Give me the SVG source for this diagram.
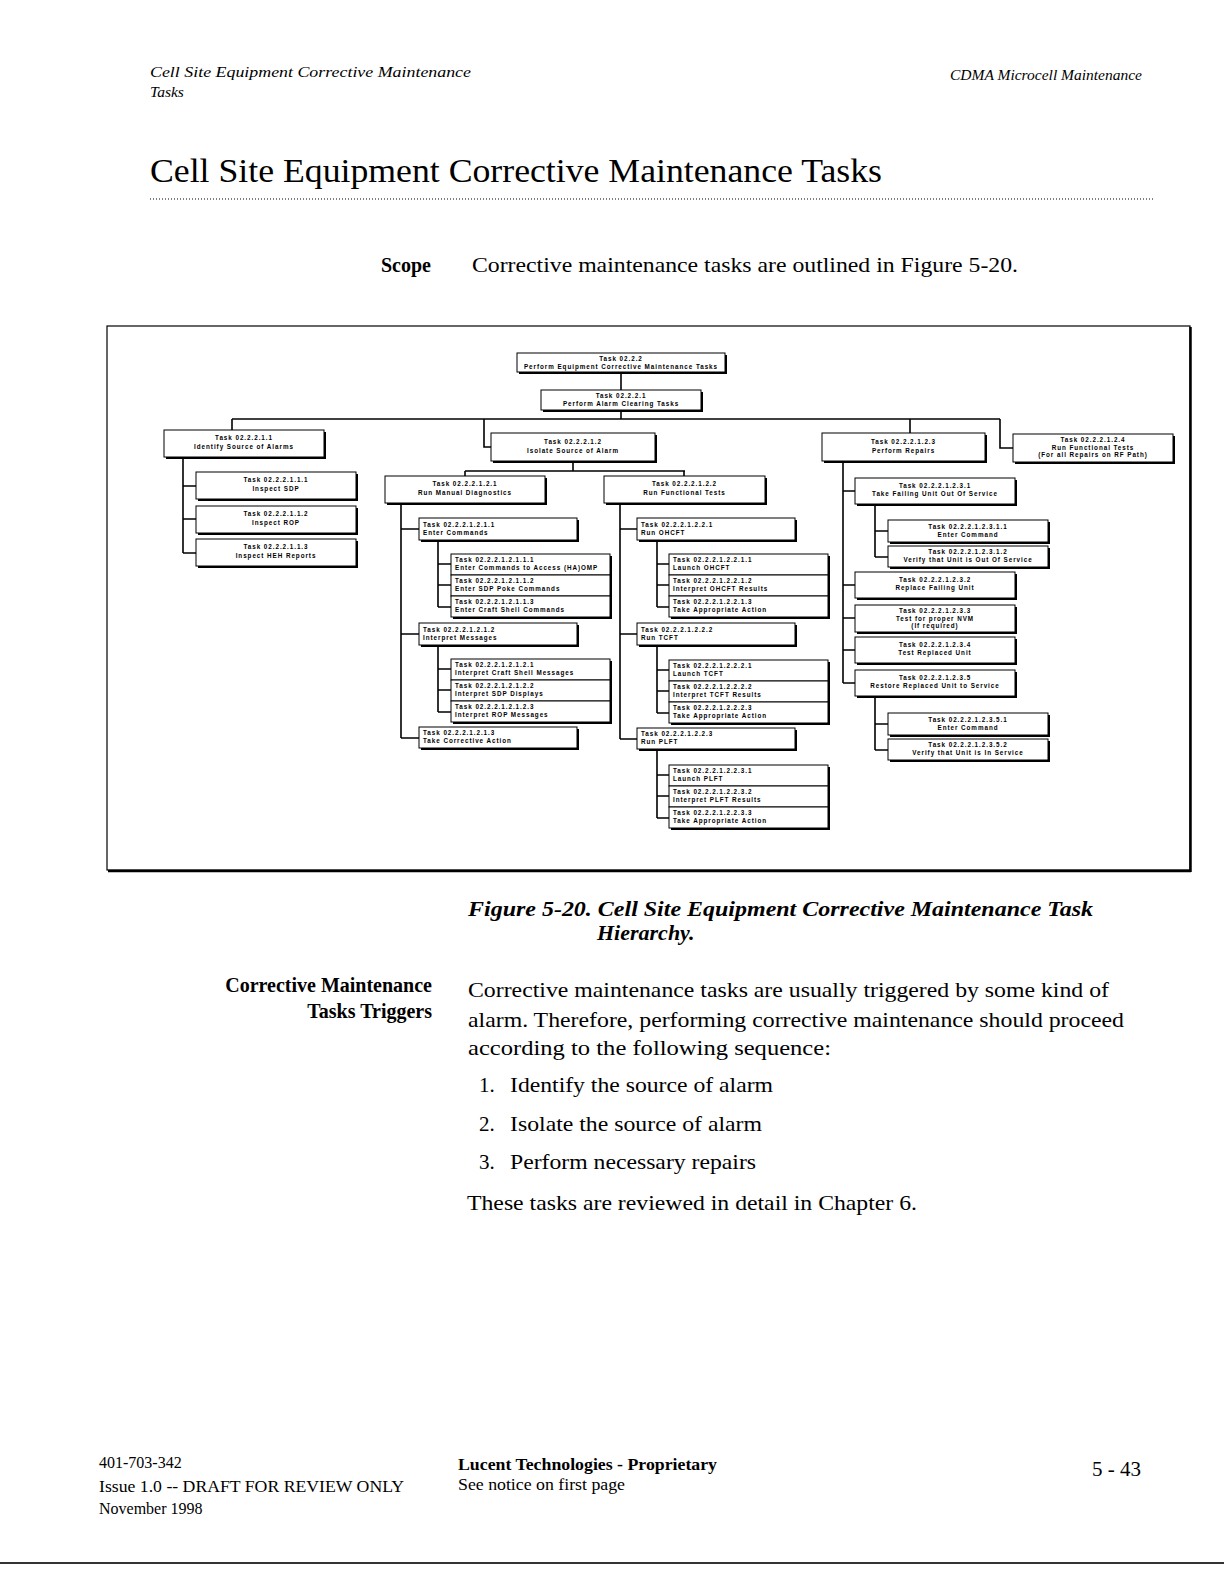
<svg xmlns="http://www.w3.org/2000/svg" width="1224" height="1584" viewBox="0 0 1224 1584">
<style>
.bx{fill:#fff;stroke:#000;stroke-width:1}
.sh{fill:#000}
.t{font-family:"Liberation Sans",Arial,sans-serif;font-size:6.3px;font-weight:bold;letter-spacing:0.95px;fill:#000}
.c{text-anchor:middle}
.ln{stroke:#000;stroke-width:1.6;fill:none}
.serif{font-family:"Liberation Serif","Times New Roman",serif;fill:#000}
.it{font-style:italic}
.b{font-weight:bold}
.r{text-anchor:end}
</style>
<rect width="1224" height="1584" fill="#fff"/>

<!-- page header -->
<text class="serif it" x="150" y="77" font-size="15.5" textLength="321" lengthAdjust="spacingAndGlyphs">Cell Site Equipment Corrective Maintenance</text>
<text class="serif it" x="150" y="97" font-size="15.5">Tasks</text>
<text class="serif it r" x="1142" y="80" font-size="15.5">CDMA Microcell Maintenance</text>
<text class="serif" x="150" y="182" font-size="33" textLength="732" lengthAdjust="spacingAndGlyphs">Cell Site Equipment Corrective Maintenance Tasks</text>
<line x1="150" y1="199" x2="1153" y2="199" stroke="#000" stroke-width="1" stroke-dasharray="1,2"/>
<text class="serif b" x="381" y="272" font-size="20">Scope</text>
<text class="serif" x="472" y="272" font-size="21" textLength="546" lengthAdjust="spacingAndGlyphs">Corrective maintenance tasks are outlined in Figure 5-20.</text>

<!-- figure frame -->
<rect x="107" y="326" width="1083" height="544" fill="none" stroke="#000" stroke-width="1.2"/>
<line x1="1190.5" y1="327" x2="1190.5" y2="872" stroke="#000" stroke-width="2.5"/>
<line x1="108" y1="871" x2="1191" y2="871" stroke="#000" stroke-width="2.5"/>

<!-- connectors -->
<g id="connectors" class="ln">
<path d="M621 372V390"/>
<path d="M621 410V419"/>
<path d="M232 419H1000"/>
<path d="M232 419V430"/>
<path d="M484 419V447H491"/>
<path d="M910 419V433"/>
<path d="M1000 419V448H1013"/>
<path d="M183 457V553M183 486H196M183 519H196M183 553H196"/>
<path d="M573 461V471M465 471H685M465 471V476M684 471V476"/>
<path d="M401 503V738M401 529H419M401 634H419M401 738H419"/>
<path d="M438 540V607M438 564H451M438 585H451M438 607H451"/>
<path d="M438 645V712M438 669H451M438 690H451M438 712H451"/>
<path d="M620 503V739M620 529H637M620 634H637M620 739H637"/>
<path d="M657 540V607M657 564H669M657 585H669M657 607H669"/>
<path d="M657 645V713M657 670H669M657 691H669M657 713H669"/>
<path d="M657 749V818M657 775H669M657 796H669M657 818H669"/>
<path d="M843 461V683M843 491H855M843 585H855M843 618H855M843 650H855M843 683H855"/>
<path d="M875 504V557M875 531H888M875 557H888"/>
<path d="M875 696V750M875 724H888M875 750H888"/>
</g>

<!-- nodes -->
<g id="n02.2.2"><rect class="sh" x="519" y="355" width="208" height="19"/><rect class="bx" x="517" y="353" width="208" height="19"/>
<text class="t c" x="621" y="361">Task 02.2.2</text><text class="t c" x="621" y="369">Perform Equipment Corrective Maintenance Tasks</text></g>

<g id="n02.2.2.1"><rect class="sh" x="543" y="392" width="160" height="20"/><rect class="bx" x="541" y="390" width="160" height="20"/>
<text class="t c" x="621" y="398">Task 02.2.2.1</text><text class="t c" x="621" y="406">Perform Alarm Clearing Tasks</text></g>

<g id="n02.2.2.1.1"><rect class="sh" x="166" y="432" width="160" height="27"/><rect class="bx" x="164" y="430" width="160" height="27"/>
<text class="t c" x="244" y="440">Task 02.2.2.1.1</text><text class="t c" x="244" y="449">Identify Source of Alarms</text></g>

<g id="n02.2.2.1.1.1"><rect class="sh" x="198" y="474" width="160" height="27"/><rect class="bx" x="196" y="472" width="160" height="27"/>
<text class="t c" x="276" y="482">Task 02.2.2.1.1.1</text><text class="t c" x="276" y="491">Inspect SDP</text></g>
<g id="n02.2.2.1.1.2"><rect class="sh" x="198" y="508" width="160" height="27"/><rect class="bx" x="196" y="506" width="160" height="27"/>
<text class="t c" x="276" y="516">Task 02.2.2.1.1.2</text><text class="t c" x="276" y="525">Inspect ROP</text></g>
<g id="n02.2.2.1.1.3"><rect class="sh" x="198" y="541" width="160" height="27"/><rect class="bx" x="196" y="539" width="160" height="27"/>
<text class="t c" x="276" y="549">Task 02.2.2.1.1.3</text><text class="t c" x="276" y="558">Inspect HEH Reports</text></g>

<g id="n02.2.2.1.2"><rect class="sh" x="493" y="435" width="164" height="28"/><rect class="bx" x="491" y="433" width="164" height="28"/>
<text class="t c" x="573" y="444">Task 02.2.2.1.2</text><text class="t c" x="573" y="453">Isolate Source of Alarm</text></g>

<g id="n02.2.2.1.2.1"><rect class="sh" x="387" y="478" width="160" height="27"/><rect class="bx" x="385" y="476" width="160" height="27"/>
<text class="t c" x="465" y="486">Task 02.2.2.1.2.1</text><text class="t c" x="465" y="495">Run Manual Diagnostics</text></g>

<g id="n02.2.2.1.2.1.1"><rect class="sh" x="421" y="520" width="158" height="22"/><rect class="bx" x="419" y="518" width="158" height="22"/>
<text class="t" x="423" y="527">Task 02.2.2.1.2.1.1</text><text class="t" x="423" y="535">Enter Commands</text></g>
<g id="n02.2.2.1.2.1.1.1"><rect class="sh" x="453" y="556" width="159" height="21"/><rect class="bx" x="451" y="554" width="159" height="21"/>
<text class="t" x="455" y="562">Task 02.2.2.1.2.1.1.1</text><text class="t" x="455" y="570">Enter Commands to Access (HA)OMP</text></g>
<g id="n02.2.2.1.2.1.1.2"><rect class="sh" x="453" y="577" width="159" height="21"/><rect class="bx" x="451" y="575" width="159" height="21"/>
<text class="t" x="455" y="583">Task 02.2.2.1.2.1.1.2</text><text class="t" x="455" y="591">Enter SDP Poke Commands</text></g>
<g id="n02.2.2.1.2.1.1.3"><rect class="sh" x="453" y="598" width="159" height="21"/><rect class="bx" x="451" y="596" width="159" height="21"/>
<text class="t" x="455" y="604">Task 02.2.2.1.2.1.1.3</text><text class="t" x="455" y="612">Enter Craft Shell Commands</text></g>

<g id="n02.2.2.1.2.1.2"><rect class="sh" x="421" y="625" width="158" height="22"/><rect class="bx" x="419" y="623" width="158" height="22"/>
<text class="t" x="423" y="632">Task 02.2.2.1.2.1.2</text><text class="t" x="423" y="640">Interpret Messages</text></g>
<g id="n02.2.2.1.2.1.2.1"><rect class="sh" x="453" y="661" width="159" height="21"/><rect class="bx" x="451" y="659" width="159" height="21"/>
<text class="t" x="455" y="667">Task 02.2.2.1.2.1.2.1</text><text class="t" x="455" y="675">Interpret Craft Shell Messages</text></g>
<g id="n02.2.2.1.2.1.2.2"><rect class="sh" x="453" y="682" width="159" height="21"/><rect class="bx" x="451" y="680" width="159" height="21"/>
<text class="t" x="455" y="688">Task 02.2.2.1.2.1.2.2</text><text class="t" x="455" y="696">Interpret SDP Displays</text></g>
<g id="n02.2.2.1.2.1.2.3"><rect class="sh" x="453" y="703" width="159" height="21"/><rect class="bx" x="451" y="701" width="159" height="21"/>
<text class="t" x="455" y="709">Task 02.2.2.1.2.1.2.3</text><text class="t" x="455" y="717">Interpret ROP Messages</text></g>

<g id="n02.2.2.1.2.1.3"><rect class="sh" x="421" y="729" width="158" height="21"/><rect class="bx" x="419" y="727" width="158" height="21"/>
<text class="t" x="423" y="735">Task 02.2.2.1.2.1.3</text><text class="t" x="423" y="743">Take Corrective Action</text></g>

<g id="n02.2.2.1.2.2"><rect class="sh" x="606" y="478" width="161" height="27"/><rect class="bx" x="604" y="476" width="161" height="27"/>
<text class="t c" x="684.5" y="486">Task 02.2.2.1.2.2</text><text class="t c" x="684.5" y="495">Run Functional Tests</text></g>

<g id="n02.2.2.1.2.2.1"><rect class="sh" x="639" y="520" width="158" height="22"/><rect class="bx" x="637" y="518" width="158" height="22"/>
<text class="t" x="641" y="527">Task 02.2.2.1.2.2.1</text><text class="t" x="641" y="535">Run OHCFT</text></g>
<g id="n02.2.2.1.2.2.1.1"><rect class="sh" x="671" y="556" width="159" height="21"/><rect class="bx" x="669" y="554" width="159" height="21"/>
<text class="t" x="673" y="562">Task 02.2.2.1.2.2.1.1</text><text class="t" x="673" y="570">Launch OHCFT</text></g>
<g id="n02.2.2.1.2.2.1.2"><rect class="sh" x="671" y="577" width="159" height="21"/><rect class="bx" x="669" y="575" width="159" height="21"/>
<text class="t" x="673" y="583">Task 02.2.2.1.2.2.1.2</text><text class="t" x="673" y="591">Interpret OHCFT Results</text></g>
<g id="n02.2.2.1.2.2.1.3"><rect class="sh" x="671" y="598" width="159" height="21"/><rect class="bx" x="669" y="596" width="159" height="21"/>
<text class="t" x="673" y="604">Task 02.2.2.1.2.2.1.3</text><text class="t" x="673" y="612">Take Appropriate Action</text></g>

<g id="n02.2.2.1.2.2.2"><rect class="sh" x="639" y="625" width="158" height="22"/><rect class="bx" x="637" y="623" width="158" height="22"/>
<text class="t" x="641" y="632">Task 02.2.2.1.2.2.2</text><text class="t" x="641" y="640">Run TCFT</text></g>
<g id="n02.2.2.1.2.2.2.1"><rect class="sh" x="671" y="662" width="159" height="21"/><rect class="bx" x="669" y="660" width="159" height="21"/>
<text class="t" x="673" y="668">Task 02.2.2.1.2.2.2.1</text><text class="t" x="673" y="676">Launch TCFT</text></g>
<g id="n02.2.2.1.2.2.2.2"><rect class="sh" x="671" y="683" width="159" height="21"/><rect class="bx" x="669" y="681" width="159" height="21"/>
<text class="t" x="673" y="689">Task 02.2.2.1.2.2.2.2</text><text class="t" x="673" y="697">Interpret TCFT Results</text></g>
<g id="n02.2.2.1.2.2.2.3"><rect class="sh" x="671" y="704" width="159" height="21"/><rect class="bx" x="669" y="702" width="159" height="21"/>
<text class="t" x="673" y="710">Task 02.2.2.1.2.2.2.3</text><text class="t" x="673" y="718">Take Appropriate Action</text></g>

<g id="n02.2.2.1.2.2.3"><rect class="sh" x="639" y="730" width="158" height="21"/><rect class="bx" x="637" y="728" width="158" height="21"/>
<text class="t" x="641" y="736">Task 02.2.2.1.2.2.3</text><text class="t" x="641" y="744">Run PLFT</text></g>
<g id="n02.2.2.1.2.2.3.1"><rect class="sh" x="671" y="767" width="159" height="21"/><rect class="bx" x="669" y="765" width="159" height="21"/>
<text class="t" x="673" y="773">Task 02.2.2.1.2.2.3.1</text><text class="t" x="673" y="781">Launch PLFT</text></g>
<g id="n02.2.2.1.2.2.3.2"><rect class="sh" x="671" y="788" width="159" height="21"/><rect class="bx" x="669" y="786" width="159" height="21"/>
<text class="t" x="673" y="794">Task 02.2.2.1.2.2.3.2</text><text class="t" x="673" y="802">Interpret PLFT Results</text></g>
<g id="n02.2.2.1.2.2.3.3"><rect class="sh" x="671" y="809" width="159" height="21"/><rect class="bx" x="669" y="807" width="159" height="21"/>
<text class="t" x="673" y="815">Task 02.2.2.1.2.2.3.3</text><text class="t" x="673" y="823">Take Appropriate Action</text></g>

<g id="n02.2.2.1.2.3"><rect class="sh" x="824" y="435" width="163" height="28"/><rect class="bx" x="822" y="433" width="163" height="28"/>
<text class="t c" x="903.5" y="444">Task 02.2.2.1.2.3</text><text class="t c" x="903.5" y="453">Perform Repairs</text></g>

<g id="n02.2.2.1.2.4"><rect class="sh" x="1015" y="436" width="160" height="28"/><rect class="bx" x="1013" y="434" width="160" height="28"/>
<text class="t c" x="1093" y="442">Task 02.2.2.1.2.4</text><text class="t c" x="1093" y="449.5">Run Functional Tests</text><text class="t c" x="1093" y="457">(For all Repairs on RF Path)</text></g>

<g id="n02.2.2.1.2.3.1"><rect class="sh" x="857" y="480" width="160" height="26"/><rect class="bx" x="855" y="478" width="160" height="26"/>
<text class="t c" x="935" y="488">Task 02.2.2.1.2.3.1</text><text class="t c" x="935" y="496">Take Failing Unit Out Of Service</text></g>
<g id="n02.2.2.1.2.3.1.1"><rect class="sh" x="890" y="522" width="160" height="22"/><rect class="bx" x="888" y="520" width="160" height="22"/>
<text class="t c" x="968" y="529">Task 02.2.2.1.2.3.1.1</text><text class="t c" x="968" y="537">Enter Command</text></g>
<g id="n02.2.2.1.2.3.1.2"><rect class="sh" x="890" y="548" width="160" height="21"/><rect class="bx" x="888" y="546" width="160" height="21"/>
<text class="t c" x="968" y="554">Task 02.2.2.1.2.3.1.2</text><text class="t c" x="968" y="562">Verify that Unit is Out Of Service</text></g>
<g id="n02.2.2.1.2.3.2"><rect class="sh" x="857" y="574" width="160" height="26"/><rect class="bx" x="855" y="572" width="160" height="26"/>
<text class="t c" x="935" y="582">Task 02.2.2.1.2.3.2</text><text class="t c" x="935" y="590">Replace Failing Unit</text></g>
<g id="n02.2.2.1.2.3.3"><rect class="sh" x="857" y="607" width="160" height="27"/><rect class="bx" x="855" y="605" width="160" height="27"/>
<text class="t c" x="935" y="613">Task 02.2.2.1.2.3.3</text><text class="t c" x="935" y="620.5">Test for proper NVM</text><text class="t c" x="935" y="628">(If required)</text></g>
<g id="n02.2.2.1.2.3.4"><rect class="sh" x="857" y="639" width="160" height="26"/><rect class="bx" x="855" y="637" width="160" height="26"/>
<text class="t c" x="935" y="647">Task 02.2.2.1.2.3.4</text><text class="t c" x="935" y="655">Test Replaced Unit</text></g>
<g id="n02.2.2.1.2.3.5"><rect class="sh" x="857" y="672" width="160" height="26"/><rect class="bx" x="855" y="670" width="160" height="26"/>
<text class="t c" x="935" y="680">Task 02.2.2.1.2.3.5</text><text class="t c" x="935" y="688">Restore Replaced Unit to Service</text></g>
<g id="n02.2.2.1.2.3.5.1"><rect class="sh" x="890" y="715" width="160" height="22"/><rect class="bx" x="888" y="713" width="160" height="22"/>
<text class="t c" x="968" y="722">Task 02.2.2.1.2.3.5.1</text><text class="t c" x="968" y="730">Enter Command</text></g>
<g id="n02.2.2.1.2.3.5.2"><rect class="sh" x="890" y="741" width="160" height="21"/><rect class="bx" x="888" y="739" width="160" height="21"/>
<text class="t c" x="968" y="747">Task 02.2.2.1.2.3.5.2</text><text class="t c" x="968" y="755">Verify that Unit is In Service</text></g>

<!-- caption and body -->
<text class="serif b it" x="468" y="916" font-size="22" textLength="625" lengthAdjust="spacingAndGlyphs">Figure 5-20.  Cell Site Equipment Corrective Maintenance Task</text>
<text class="serif b it" x="597" y="940" font-size="22">Hierarchy.</text>
<text class="serif b r" x="432" y="992" font-size="20">Corrective Maintenance</text>
<text class="serif b r" x="432" y="1018" font-size="20">Tasks Triggers</text>
<text class="serif" x="468" y="997" font-size="21" textLength="641" lengthAdjust="spacingAndGlyphs">Corrective maintenance tasks are usually triggered by some kind of</text>
<text class="serif" x="468" y="1027" font-size="21" textLength="656" lengthAdjust="spacingAndGlyphs">alarm. Therefore, performing corrective maintenance should proceed</text>
<text class="serif" x="468" y="1055" font-size="21" textLength="363" lengthAdjust="spacingAndGlyphs">according to the following sequence:</text>
<text class="serif" x="479" y="1092" font-size="21">1.</text>
<text class="serif" x="510" y="1092" font-size="21" textLength="263" lengthAdjust="spacingAndGlyphs">Identify the source of alarm</text>
<text class="serif" x="479" y="1131" font-size="21">2.</text>
<text class="serif" x="510" y="1131" font-size="21" textLength="252" lengthAdjust="spacingAndGlyphs">Isolate the source of alarm</text>
<text class="serif" x="479" y="1169" font-size="21">3.</text>
<text class="serif" x="510" y="1169" font-size="21" textLength="246" lengthAdjust="spacingAndGlyphs">Perform necessary repairs</text>
<text class="serif" x="467" y="1210" font-size="21" textLength="450" lengthAdjust="spacingAndGlyphs">These tasks are reviewed in detail in Chapter 6.</text>

<!-- footer -->
<text class="serif" x="99" y="1468" font-size="16">401-703-342</text>
<text class="serif" x="99" y="1492" font-size="16" textLength="305" lengthAdjust="spacingAndGlyphs">Issue 1.0 -- DRAFT FOR REVIEW ONLY</text>
<text class="serif" x="99" y="1514" font-size="16">November 1998</text>
<text class="serif b" x="458" y="1470" font-size="16" textLength="259" lengthAdjust="spacingAndGlyphs">Lucent Technologies - Proprietary</text>
<text class="serif" x="458" y="1490" font-size="16" textLength="167" lengthAdjust="spacingAndGlyphs">See notice on first page</text>
<text class="serif r" x="1141" y="1476" font-size="21">5 - 43</text>
<line x1="0" y1="1563" x2="1224" y2="1563" stroke="#333" stroke-width="2"/>
</svg>
